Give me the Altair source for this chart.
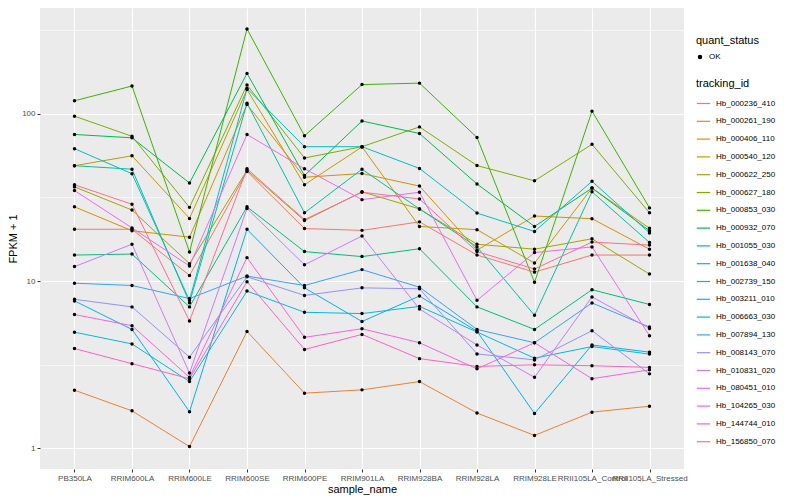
import altair as alt
import pandas as pd

samples = ["PB350LA", "RRIM600LA", "RRIM600LE", "RRIM600SE", "RRIM600PE", "RRIM901LA",
           "RRIM928BA", "RRIM928LA", "RRIM928LE", "RRII105LA_Control", "RRII105LA_Stressed"]

tracking_ids = ["Hb_000236_410", "Hb_000261_190", "Hb_000406_110", "Hb_000540_120",
                "Hb_000622_250", "Hb_000627_180", "Hb_000853_030", "Hb_000932_070",
                "Hb_001055_030", "Hb_001638_040", "Hb_002739_150", "Hb_003211_010",
                "Hb_006663_030", "Hb_007894_130", "Hb_008143_070", "Hb_010831_020",
                "Hb_080451_010", "Hb_104265_030", "Hb_144744_010", "Hb_156850_070"]

colors = ["#F8766D", "#EA8331", "#D89000", "#C09B00", "#A3A500", "#7CAE00", "#39B600",
          "#00BB4E", "#00BF7D", "#00C1A3", "#00BFC4", "#00BAE0", "#00B0F6", "#35A2FF",
          "#9590FF", "#C77CFF", "#E76BF3", "#FA62DB", "#FF62BC", "#FF6C91"]

# FPKM + 1 per sample (order of `samples`)
hb_000236_410 = [20.4, 20.4, 10.8, 45.3, 20.6, 20.1, 22.6, 14.3, 11.3, 14.3, 14.3]
hb_000261_190 = [2.22, 1.67, 1.02, 4.99, 2.13, 2.23, 2.50, 1.62, 1.19, 1.64, 1.78]
hb_000406_110 = [27.8, 20.0, 18.3, 114, 41.8, 44.0, 37.0, 15.3, 24.5, 23.6, 15.5]
hb_000540_120 = [49.0, 56.2, 23.7, 140, 37.7, 63.5, 21.2, 20.3, 12.8, 36.0, 20.7]
hb_000622_250 = [36.6, 26.6, 12.7, 46.0, 23.0, 34.2, 27.0, 16.6, 15.5, 17.9, 11.0]
hb_000627_180 = [97.0, 73.5, 27.6, 149, 54.5, 63.7, 83.7, 49.1, 39.8, 65.8, 25.6]
hb_000853_030 = [120, 147, 14.9, 323, 74.0, 150, 153, 72.3, 9.83, 104, 27.4]
hb_000932_070 = [75.4, 72.0, 38.6, 175, 42.8, 90.8, 76.4, 38.1, 21.2, 36.0, 20.0]
hb_001055_030 = [14.3, 14.5, 7.0, 27.8, 15.0, 14.0, 15.6, 7.0, 5.13, 8.87, 7.24]
hb_001638_040 = [49.0, 46.7, 7.42, 116, 25.6, 46.7, 27.0, 16.0, 6.23, 34.2, 17.0]
hb_002739_150 = [62.0, 43.9, 7.66, 142, 63.7, 63.7, 47.2, 25.5, 19.8, 39.5, 19.4]
hb_003211_010 = [4.94, 4.2, 2.5, 8.7, 6.5, 6.38, 7.05, 4.95, 3.45, 4.05, 3.65]
hb_006663_030 = [7.6, 5.13, 1.65, 20.4, 9.1, 5.72, 8.13, 5.0, 1.61, 4.14, 3.75]
hb_007894_130 = [9.7, 9.4, 7.85, 10.7, 9.4, 11.7, 9.18, 5.13, 4.27, 7.39, 5.3]
hb_008143_070 = [7.77, 7.0, 3.5, 10.6, 8.2, 9.1, 8.98, 3.66, 3.37, 5.04, 2.78]
hb_010831_020 = [12.2, 16.6, 2.81, 27.2, 12.5, 18.6, 6.8, 4.14, 2.65, 8.03, 5.2]
hb_080451_010 = [34.8, 20.8, 12.3, 75.4, 47.0, 30.7, 34.0, 7.66, 14.8, 16.0, 4.7]
hb_104265_030 = [6.3, 5.4, 2.65, 13.8, 4.6, 5.18, 4.27, 2.98, 4.27, 2.6, 2.94]
hb_144744_010 = [3.94, 3.2, 2.6, 9.9, 3.89, 4.79, 3.43, 3.08, 3.15, 3.11, 3.04]
hb_156850_070 = [37.7, 28.8, 5.76, 47.0, 23.3, 34.0, 31.0, 15.0, 11.8, 17.1, 16.4]

series = [hb_000236_410, hb_000261_190, hb_000406_110, hb_000540_120, hb_000622_250,
          hb_000627_180, hb_000853_030, hb_000932_070, hb_001055_030, hb_001638_040,
          hb_002739_150, hb_003211_010, hb_006663_030, hb_007894_130, hb_008143_070,
          hb_010831_020, hb_080451_010, hb_104265_030, hb_144744_010, hb_156850_070]

rows = []
for tid, vals in zip(tracking_ids, series):
    for s, v in zip(samples, vals):
        rows.append({"tracking_id": tid, "sample_name": s, "fpkm": v, "quant_status": "OK"})
df = pd.DataFrame(rows)

major = "datum.value == 1 || datum.value == 10 || datum.value == 100"

x_enc = alt.X("sample_name:N", sort=samples,
              scale=alt.Scale(type="point", padding=0.6),
              axis=alt.Axis(title="sample_name", labelAngle=0, grid=True, gridColor="white",
                            gridWidth=1.1, domain=False, tickColor="#333333", tickSize=3,
                            labelColor="#4D4D4D", labelFontSize=8, labelPadding=2,
                            titleFontSize=11, titleFontWeight="normal", titleColor="black",
                            titlePadding=1))
y_enc = alt.Y("fpkm:Q",
              scale=alt.Scale(type="log", domain=[0.749, 431], nice=False),
              axis=alt.Axis(title="FPKM + 1", values=[1, 3.1623, 10, 31.623, 100, 316.23],
                            labelExpr=f"({major}) ? format(datum.value, 'd') : ''",
                            grid=True, gridColor="white",
                            gridWidth={"condition": {"test": major, "value": 1.1}, "value": 0.55},
                            tickOpacity={"condition": {"test": major, "value": 1}, "value": 0},
                            domain=False, tickColor="#333333", tickSize=3,
                            labelColor="#4D4D4D", labelFontSize=8, labelPadding=2,
                            titleFontSize=11, titleFontWeight="normal", titleColor="black",
                            titlePadding=3))

lines = alt.Chart(df).mark_line(strokeWidth=1).encode(
    x=x_enc, y=y_enc,
    color=alt.Color("tracking_id:N",
                    scale=alt.Scale(domain=tracking_ids, range=colors),
                    legend=alt.Legend(title="tracking_id", orient="none", legendX=656, legendY=70,
                                      symbolType="stroke", symbolStrokeWidth=1.2, symbolSize=180,
                                      labelFontSize=8, labelColor="black", titleFontSize=11,
                                      titleFontWeight="normal", titleColor="black",
                                      rowPadding=5.8, titlePadding=7, labelOffset=5)),
)

points = alt.Chart(df).mark_point(filled=True, size=12, opacity=1, color="black").encode(
    x=x_enc, y=y_enc,
    shape=alt.Shape("quant_status:N", scale=alt.Scale(domain=["OK"], range=["circle"]),
                    legend=alt.Legend(title="quant_status", orient="none", legendX=656, legendY=27,
                                      symbolSize=20, symbolFillColor="black",
                                      labelFontSize=8, labelColor="black", titleFontSize=11,
                                      titleFontWeight="normal", titleColor="black",
                                      titlePadding=7, labelOffset=5)),
)

chart = alt.layer(lines, points).properties(
    width=644, height=461,
    autosize=alt.AutoSizeParams(type="none"),
    padding={"left": 32, "top": 0, "right": 100, "bottom": 30},
).configure(font="Liberation Sans").configure_view(fill="#EBEBEB", stroke=None)

chart.save("out.html", embed_options={"renderer": "svg", "actions": False})
